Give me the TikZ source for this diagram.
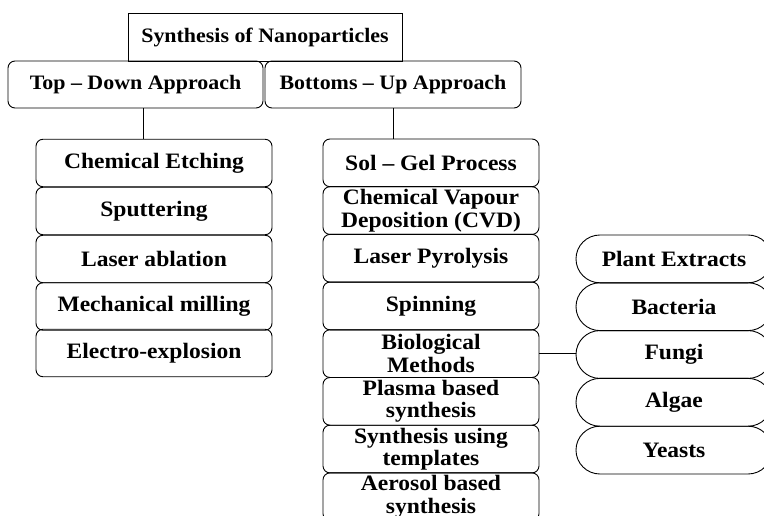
\documentclass[tikz,border=0pt]{standalone}
\usepackage{fontspec}
\setmainfont{Liberation Serif}
\newfontfamily\boxfam[FakeStretch=1.07,Ligatures=TeX]{Liberation Serif}
\tikzset{
  base/.style={draw, line width=0.9pt, inner sep=0pt, align=center, text=black},
  titlebox/.style={base, minimum width=274pt, minimum height=48pt,
    font=\boxfam\bfseries\fontsize{20.5}{22}\selectfont},
  appbox/.style={base, rounded corners=7pt, minimum height=47pt,
    font=\boxfam\bfseries\fontsize{20.5}{22}\selectfont},
  leftbox/.style={base, rounded corners=7pt, minimum width=236pt, minimum height=47.5pt,
    font=\boxfam\bfseries\fontsize{22}{23}\selectfont},
  midbox/.style={base, rounded corners=7pt, minimum width=216pt, minimum height=47.7pt,
    font=\boxfam\bfseries\fontsize{22}{22.5}\selectfont},
  capbox/.style={base, rounded corners=23.9pt, minimum width=196pt, minimum height=47.8pt,
    font=\boxfam\bfseries\fontsize{22}{23}\selectfont},
  link/.style={line width=0.9pt}
}
\begin{document}
\begin{tikzpicture}[x=1pt,y=-1pt]
\clip (0,0) rectangle (764,516);
\fill[white] (0,0) rectangle (764,516);
% title
\node[titlebox] (title) at (265,37) {Synthesis of Nanoparticles};
% approaches
\node[appbox, minimum width=255pt] (td) at (135.5,84.5) {Top – Down Approach};
\node[appbox, minimum width=256pt] (bu) at (393,84.5) {Bottoms – Up Approach};
% left column
\node[leftbox] (l1) at (154,163) {Chemical Etching};
\node[leftbox] (l2) at (154,211) {Sputtering};
\node[leftbox] (l3) at (154,259) {Laser ablation};
\node[leftbox] (l4) at (154,306.5) {Mechanical milling};
\node[leftbox] (l5) at (154,353) {Electro-explosion};
% middle column
\node[midbox] (m1) at (431,162.85) {Sol – Gel Process};
\node[midbox] (m2) at (431,210.55) {Chemical Vapour\\Deposition (CVD)};
\node[midbox] (m3) at (431,258.25) {Laser Pyrolysis};
\node[midbox] (m4) at (431,305.95) {Spinning};
\node[midbox] (m5) at (431,353.65) {Biological\\Methods};
\node[midbox] (m6) at (431,401.35) {Plasma based\\synthesis};
\node[midbox] (m7) at (431,449.05) {Synthesis using\\templates};
\node[midbox] (m8) at (431,496.75) {Aerosol based\\synthesis};
% right column
\node[capbox] (r1) at (674,258.9) {Plant Extracts};
\node[capbox] (r2) at (674,306.7) {Bacteria};
\node[capbox] (r3) at (674,354.5) {Fungi};
\node[capbox] (r4) at (674,402.3) {Algae};
\node[capbox] (r5) at (674,450.1) {Yeasts};
% connectors
\draw[link] ([xshift=7.5pt]td.south) -- ([xshift=7.5pt]td.south |- l1.north);
\draw[link] (bu.south) -- (bu.south |- m1.north);
\draw[link] (m5.east) -- (m5.east -| r3.west);
\end{tikzpicture}
\end{document}
